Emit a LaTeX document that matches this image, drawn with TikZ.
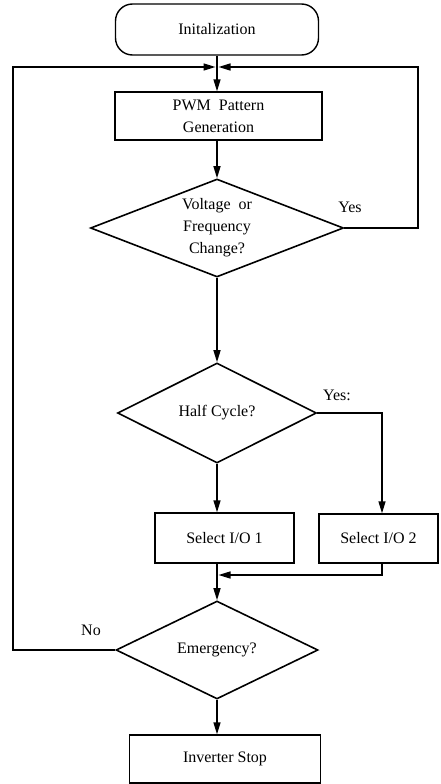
\documentclass[tikz,border=0pt]{standalone}
\usepackage{fontspec}
\setmainfont{Liberation Serif}
\usetikzlibrary{shapes.geometric,arrows.meta}
\begin{document}
\begin{tikzpicture}[x=1pt,y=-1pt,
  every node/.style={font=\fontsize{16}{22}\selectfont, align=center},
  arr/.style={line width=1.4pt,-{Triangle[length=12pt,width=7pt]}},
  boxnode/.style={draw,line width=1.4pt,rectangle,inner sep=0pt},
  decision/.style={draw,line width=1.6pt,diamond,inner sep=0pt,aspect=2.4},
  lbl/.style={inner sep=0pt}
]
\useasboundingbox (0,0) rectangle (440,784);
\node[boxnode,rounded corners=17pt,minimum width=203pt,minimum height=51pt] (init) at (217,29.5) {Initalization};
\node[boxnode,minimum width=207pt,minimum height=48pt] (pwm) at (218.5,116) {PWM\ \ Pattern\\Generation};
\node[decision,minimum width=253pt,minimum height=98pt] (d1) at (217,228) {Voltage\ \ or\\Frequency\\Change?};
\node[decision,minimum width=199pt,minimum height=100pt] (d2) at (217,413) {Half Cycle?};
\node[boxnode,minimum width=139pt,minimum height=50pt] (s1) at (224.5,538) {Select I/O 1};
\node[boxnode,minimum width=119pt,minimum height=49pt] (s2) at (378.5,538.5) {Select I/O 2};
\node[decision,minimum width=202pt,minimum height=98pt] (d3) at (217,650) {Emergency?};
\node[boxnode,minimum width=191pt,minimum height=48pt] (stop) at (225,759) {Inverter Stop};

\coordinate (jl) at (215.5,67);
\coordinate (jr) at (218.5,67);
\coordinate (r1) at (418,228);
\coordinate (r2) at (382,413);
\coordinate (l3) at (13,650);
\coordinate (m) at (218.5,575);

\node[lbl] (yes1) at (350,207) {Yes};
\node[lbl] (yes2) at (337,395) {Yes:};
\node[lbl] (no) at (91,630) {No};

\draw[arr] (init.south) -- (init.south |- pwm.north);
\draw[arr] (d1.north |- pwm.south) -- (d1.north);
\draw[arr] (d1.south) -- (d2.north);
\draw[arr] (d2.south) -- (d2.south |- s1.north);
\draw[arr] (d2.east) -- (r2) -- (r2 |- s2.north);
\draw[arr] (d2.south |- s1.south) -- (d3.north);
\draw[arr] (r2 |- s2.south) -- (r2 |- m) -- (m);
\draw[arr] (d3.south) -- (d3.south |- stop.north);
\draw[arr] (d1.east) -- (r1) -- (r1 |- jr) -- (jr);
\draw[arr] (d3.west) -- (l3) -- (l3 |- jl) -- (jl);
\end{tikzpicture}
\end{document}
